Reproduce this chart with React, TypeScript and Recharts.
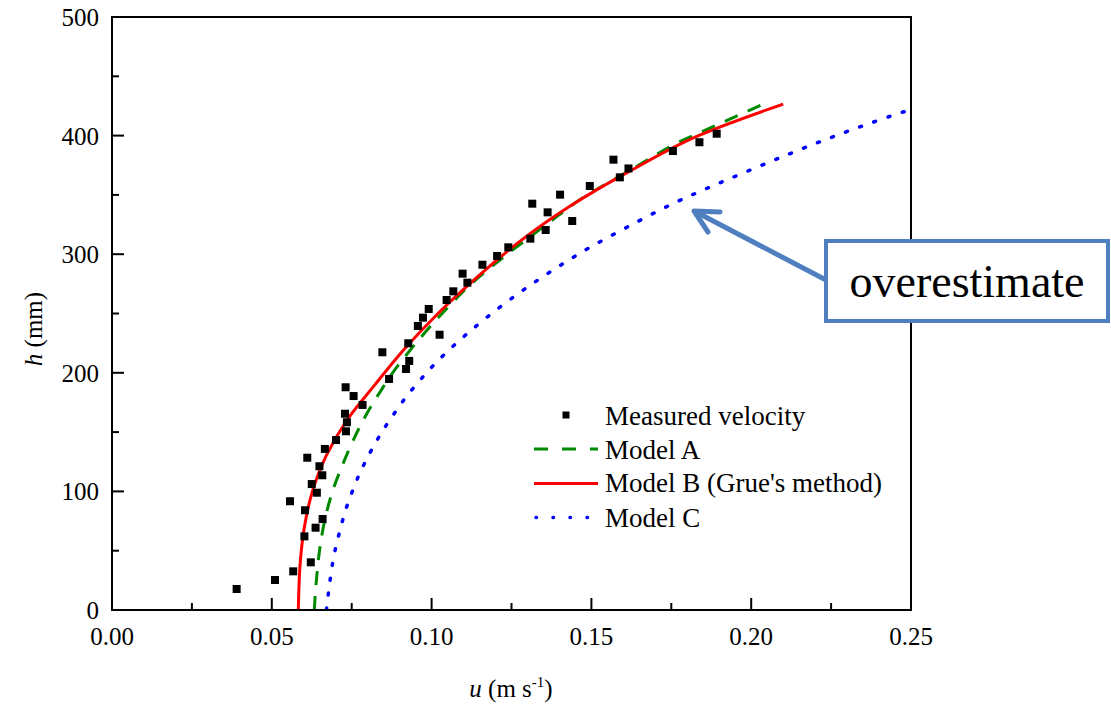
import React from 'react';
import { ComposedChart, Line, Scatter, XAxis, YAxis, ReferenceArea } from 'recharts';

// ---- data ----
const measuredU = [0.0390, 0.0510, 0.0567, 0.0622, 0.0602, 0.0637, 0.0659, 0.0604, 0.0557, 0.0641, 0.0625, 0.0658, 0.0649, 0.0611, 0.0666, 0.0701, 0.0732, 0.0735, 0.0729, 0.0784, 0.0756, 0.0731, 0.0867, 0.0846, 0.0920, 0.0930, 0.0927, 0.0957, 0.0973, 0.0991, 0.1025, 0.1047, 0.1068, 0.1097, 0.1112, 0.1159, 0.1205, 0.1240, 0.1309, 0.1315, 0.1357, 0.1363, 0.1402, 0.1440, 0.1495, 0.1569, 0.1589, 0.1616, 0.1755, 0.1838, 0.1892];
const measuredH = [17.7, 25.3, 32.6, 40.2, 62.1, 69.4, 76.7, 84.1, 91.7, 98.9, 106.2, 113.6, 121.2, 128.4, 135.8, 143.3, 150.7, 158.3, 165.5, 172.9, 180.4, 187.8, 194.8, 217.3, 203.2, 210.0, 224.9, 239.5, 246.5, 253.8, 232.1, 261.4, 268.7, 283.6, 276.0, 291.1, 298.5, 305.8, 313.1, 342.6, 320.4, 335.3, 350.2, 328.0, 357.5, 379.7, 364.8, 372.3, 387.0, 394.4, 401.6];

const modelAU = [0.0633, 0.0637, 0.0641, 0.0651, 0.0666, 0.0688, 0.0719, 0.0755, 0.0795, 0.0841, 0.0888, 0.0940, 0.1000, 0.1058, 0.1120, 0.1188, 0.1256, 0.1330, 0.1475, 0.1631, 0.1777, 0.1881, 0.2038];
const modelAH = [0, 16.9, 29.5, 53.4, 75.9, 98.4, 120.8, 143.3, 164.5, 184.8, 203.8, 221.4, 240.3, 257.2, 274.0, 289.5, 304.1, 319.0, 347.8, 372.4, 394.9, 407.5, 426.6];

const modelBU = [0.0583, 0.0589, 0.0602, 0.0627, 0.0670, 0.0735, 0.0823, 0.0915, 0.1020, 0.1140, 0.1272, 0.1430, 0.1620, 0.1835, 0.2100];
const modelBH = [0, 40, 70, 100, 130, 160, 190, 220, 250, 280, 310, 340, 370, 400, 426.6];

const modelCU = [0.0671, 0.0677, 0.0684, 0.0692, 0.0703, 0.0716, 0.0730, 0.0748, 0.0767, 0.0788, 0.0813, 0.0839, 0.0867, 0.0896, 0.0929, 0.0961, 0.0997, 0.1110, 0.1235, 0.1367, 0.1503, 0.1595, 0.1784, 0.1881, 0.2028, 0.2173, 0.2322, 0.2422, 0.2472, 0.2500];
const modelCH = [0, 14.1, 28.1, 42.2, 56.2, 69.7, 83.5, 97.2, 110.2, 122.5, 135.5, 147.6, 159.4, 170.6, 182.7, 192.8, 203.8, 232.7, 259.7, 284.4, 306.9, 320.4, 346.3, 357.8, 374.4, 390.4, 405.6, 415.1, 419.6, 421.6];

const xTicks = [0, 0.025, 0.05, 0.075, 0.1, 0.125, 0.15, 0.175, 0.2, 0.225, 0.25];
const yTicks = [0, 50, 100, 150, 200, 250, 300, 350, 400, 450, 500];

const seriesNames = ['Measured velocity', 'Model A', "Model B (Grue's method)", 'Model C'];

const zip = (us: number[], hs: number[]) => us.map((u, i) => ({ u, h: hs[i] }));
const measured = zip(measuredU, measuredH);
const modelA = zip(modelAU, modelAH);
const modelB = zip(modelBU, modelBH);
const modelC = zip(modelCU, modelCH);

const FONT = '"Liberation Serif", "Times New Roman", serif';

const XTick = (props: any) => {
  const { x, y, payload } = props;
  const v = payload.value as number;
  const major = Math.abs(v * 20 - Math.round(v * 20)) < 1e-6;
  return (
    <g>
      <line x1={x} x2={x} y1={y} y2={y - (major ? 12 : 7)} stroke="#000" strokeWidth={2} />
      {major && (
        <text x={x} y={y + 35} textAnchor="middle" fontSize={25} fontFamily={FONT} fill="#000">
          {v.toFixed(2)}
        </text>
      )}
    </g>
  );
};

const YTick = (props: any) => {
  const { x, y, payload } = props;
  const v = payload.value as number;
  const major = v % 100 === 0;
  return (
    <g>
      <line x1={x} x2={x + (major ? 12 : 7)} y1={y} y2={y} stroke="#000" strokeWidth={2} />
      {major && (
        <text x={x - 13} y={y + 9} textAnchor="end" fontSize={25} fontFamily={FONT} fill="#000">
          {v}
        </text>
      )}
    </g>
  );
};

const Square = (props: any) => {
  const { cx, cy } = props;
  return <rect x={cx - 4} y={cy - 4} width={8} height={8} fill="#000" />;
};

export default function App() {
  return (
    <div style={{ position: 'absolute', left: 0, top: 0, width: 1111, height: 705, background: '#fff' }}>
      <ComposedChart layout="vertical" width={1111} height={705} margin={{ top: 17, right: 200, bottom: 35, left: 52 }}>
        <XAxis
          type="number"
          dataKey="u"
          domain={[0, 0.25]}
          ticks={xTicks}
          interval={0}
          allowDataOverflow
          height={60}
          tickSize={0}
          tickMargin={0}
          tickLine={false}
          tick={<XTick />}
          axisLine={{ stroke: '#000', strokeWidth: 2 }}
        />
        <YAxis
          type="number"
          dataKey="h"
          domain={[0, 500]}
          reversed
          ticks={yTicks}
          interval={0}
          allowDataOverflow
          width={60}
          tickSize={0}
          tickMargin={0}
          tickLine={false}
          tick={<YTick />}
          axisLine={{ stroke: '#000', strokeWidth: 2 }}
        />
        <ReferenceArea x1={0} x2={0.25} y1={0} y2={500} fill="none" stroke="#000" strokeWidth={2} ifOverflow="visible" />
        <Line data={modelC} dataKey="u" type="monotone" stroke="#0000FF" strokeWidth={3.5} strokeDasharray="2 13" strokeLinecap="round" dot={false} activeDot={false} isAnimationActive={false} />
        <Line data={modelA} dataKey="u" type="monotone" stroke="#008A00" strokeWidth={3} strokeDasharray="14 11" dot={false} activeDot={false} isAnimationActive={false} />
        <Line data={modelB} dataKey="u" type="monotone" stroke="#FF0000" strokeWidth={3} dot={false} activeDot={false} isAnimationActive={false} />
        <Scatter data={measured} dataKey="u" shape={<Square />} fill="#000" isAnimationActive={false} />
      </ComposedChart>
      <svg width={1111} height={705} style={{ position: 'absolute', left: 0, top: 0, pointerEvents: 'none' }}>
        {/* axis titles */}
        <text x={42} y={329} transform="rotate(-90 42 329)" textAnchor="middle" fontSize={25} fontFamily={FONT} fill="#000">
          <tspan fontStyle="italic">h</tspan> (mm)
        </text>
        <text x={511} y={697} textAnchor="middle" fontSize={25} fontFamily={FONT} fill="#000">
          <tspan fontStyle="italic">u</tspan> (m s<tspan fontSize={15} dy={-10}>-1</tspan><tspan dy={10}>)</tspan>
        </text>
        {/* legend */}
        <rect x={562.5} y={411.5} width={7} height={7} fill="#000" />
        <text x={605} y={425} fontSize={27} fontFamily={FONT} fill="#000">{seriesNames[0]}</text>
        <line x1={534} x2={598} y1={449} y2={449} stroke="#008A00" strokeWidth={3} strokeDasharray="14 14" />
        <text x={605} y={459} fontSize={27} fontFamily={FONT} fill="#000">{seriesNames[1]}</text>
        <line x1={534} x2={598} y1={483.5} y2={483.5} stroke="#FF0000" strokeWidth={3} />
        <text x={605} y={492} fontSize={27} fontFamily={FONT} fill="#000">{seriesNames[2]}</text>
        <line x1={536} x2={590} y1={517.5} y2={517.5} stroke="#0000FF" strokeWidth={3.5} strokeDasharray="0.5 16.5" strokeLinecap="round" />
        <text x={605} y={527} fontSize={27} fontFamily={FONT} fill="#000">{seriesNames[3]}</text>
        {/* callout */}
        <line x1={826} y1={280} x2={696} y2={212} stroke="#4F7FBF" strokeWidth={5} />
        <polyline points="720,212 694,211 708,232" fill="none" stroke="#4F7FBF" strokeWidth={5} strokeLinecap="round" strokeLinejoin="round" />
        <rect x={826} y={241} width={282} height={80} fill="#fff" stroke="#4F7FBF" strokeWidth={4} />
        <text x={967} y={297} textAnchor="middle" fontSize={46} fontFamily={FONT} fill="#000">overestimate</text>
      </svg>
    </div>
  );
}
